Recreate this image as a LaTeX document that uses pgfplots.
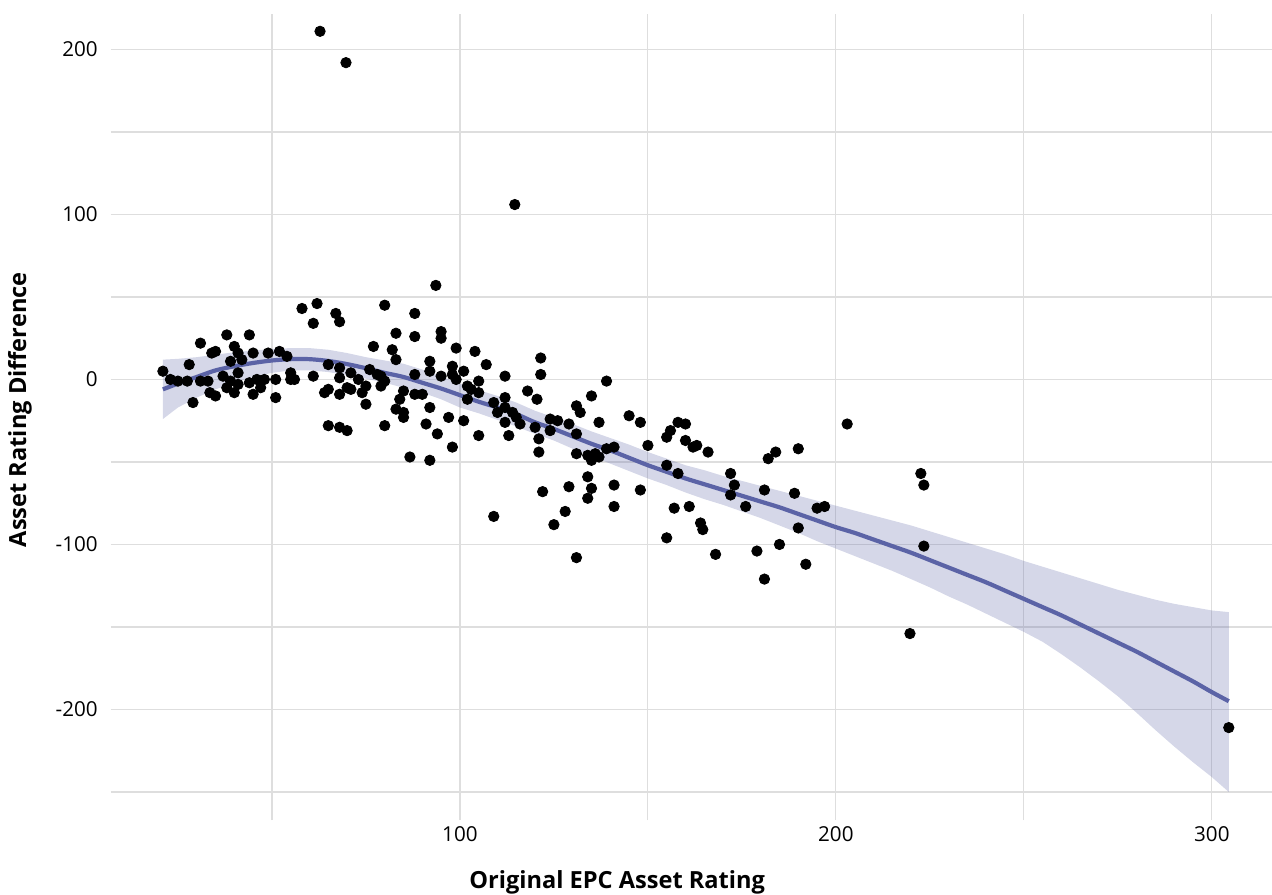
\documentclass[border=0pt]{standalone}
\usepackage{fontspec}
\setmainfont{Open Sans}
\usepackage{pgfplots}
\pgfplotsset{compat=1.18}
\definecolor{fitline}{RGB}{91,99,166}
\definecolor{gridc}{RGB}{222,222,222}
\begin{document}
\begin{tikzpicture}
\begin{axis}[
  scale only axis, width=580.5pt, height=403pt,
  xmin=7.2, xmax=316, ymin=-267, ymax=221.5,
  axis line style={draw=none},
  major tick length=0pt, minor tick length=0pt,
  xtick={100,200,300}, xticklabels={100,200,300},
  minor xtick={50,150,250},
  ytick={-200,-100,0,100,200}, yticklabels={-200,-100,0,100,200},
  minor ytick={-250,-150,-50,50,150},
  grid=both,
  major grid style={gridc, line width=0.6pt},
  minor grid style={gridc, line width=0.6pt},
  tick label style={font=\fontsize{10.3}{12}\selectfont, text=black},
  xticklabel style={anchor=center, yshift=-7pt},
  yticklabel style={anchor=east, inner sep=0pt},
  yticklabel shift=6.5pt,
  xlabel={Original EPC Asset Rating},
  ylabel={Asset Rating Difference},
  xlabel style={font=\bfseries\fontsize{11.8}{13}\selectfont, at={(axis description cs:0.436,-0.0775)}, anchor=center},
  ylabel style={font=\bfseries\fontsize{11.8}{13}\selectfont, at={(axis description cs:-0.0784,0.509)}, anchor=center},
  clip=false,
]
% confidence band (upper forward, lower reversed)
\addplot[draw=none, fill=fitline, fill opacity=0.26] coordinates {
(21,12) (25,12.5) (30,13.5) (35,15) (40,16.5) (45,17.5) (50,18.5) (55,19) (60,19) (65,18) (70,16) (75,13.5) (80,11.5) (85,9.5) (90,6) (95,2) (100,-2.5) (105,-6.5) (110,-10) (115,-14) (120,-19) (125,-23) (130,-27) (135,-31.5) (140,-35.5) (145,-39.5) (150,-44) (155,-48) (160,-52) (165,-55) (170,-58.5) (175,-61.5) (180,-64.5) (185,-67.5) (190,-70.5) (195,-73.5) (200,-76.5) (205,-79.5) (210,-82.5) (215,-85.5) (220,-88.5) (225,-92) (230,-95.5) (235,-99) (240,-102.5) (245,-106) (250,-110) (255,-113.5) (260,-117) (265,-120.5) (270,-124) (275,-127.5) (280,-130.5) (285,-133.5) (290,-136) (295,-138) (300,-140) (304.5,-141)
(304.5,-250) (300,-241) (295,-232) (290,-222.5) (285,-212.5) (280,-202) (275,-192) (270,-183) (265,-174.5) (260,-166.5) (255,-159) (250,-153) (245,-147.5) (240,-142) (235,-136.5) (230,-131.5) (225,-126) (220,-121) (215,-116) (210,-111.5) (205,-107) (200,-102.5) (195,-98) (190,-93) (185,-88.5) (180,-84) (175,-80) (170,-76) (165,-72.5) (160,-68.5) (155,-64) (150,-60) (145,-55.5) (140,-51) (135,-46.5) (130,-42) (125,-37) (120,-33) (115,-28.5) (110,-24.5) (105,-20.5) (100,-17) (95,-12) (90,-8) (85,-5) (80,-2) (75,0.5) (70,2.5) (65,4.5) (60,5.5) (55,5.5) (50,4) (45,1.5) (40,-2) (35,-6) (30,-11) (25,-17) (21,-24)
};
% smooth fit
\addplot[fitline, line width=2.1pt, smooth] coordinates {
(21,-6) (25,-2.5) (30,1.5) (35,5.5) (40,8) (45,10) (50,11.5) (55,12.3) (60,12.3) (65,11.2) (70,9.3) (75,6.8) (80,4) (85,1.5) (90,-2) (95,-5.5) (100,-9.5) (105,-13.5) (110,-17) (115,-21) (120,-26) (125,-30) (130,-34.5) (135,-39) (140,-43) (145,-47.5) (150,-52) (155,-56) (160,-60) (165,-63.5) (170,-67) (175,-70.5) (180,-74) (185,-77.5) (190,-81.5) (195,-85.5) (200,-89.5) (205,-93) (210,-97) (215,-101) (220,-105) (225,-109.5) (230,-114) (235,-118.5) (240,-123) (245,-128) (250,-133) (255,-138) (260,-143) (265,-148.5) (270,-154) (275,-159.5) (280,-165) (285,-171) (290,-177) (295,-183) (300,-189.5) (304.5,-195)
};
% data points
\addplot[only marks, mark=*, mark size=2.6pt, black] coordinates {
(21,5) (23,0) (25,-1) (27.5,-1) (28,9) (29,-14) (31,22) (31,-1) (33,-1) (33.5,-8) (34,16) (35,17) (35,-10) (37,2) (38,27) (38,-5) (39,11) (40,20) (39,-1) (40,-8) (41,16) (41,4) (41,-3) (42,12) (44,27) (44,-2) (45,16) (45,-9) (46,0) (47,-5) (48,0) (49,16) (51,-11) (51,0) (52,17) (54,14) (55,4) (55,0) (56,0)
(58,43) (62,46) (61,34) (67,40) (68,35) (80,45) (88,40) (83,28) (88,26) (95,29) (95,25) (77,20) (82,18) (83,12) (92,11) (99,19) (104,17)
(61,2) (65,9) (68,7) (68,1) (71,4) (65,-6) (64,-8) (68,-9) (70,-5) (71,-6) (73,0) (75,-4) (74,-8) (75,-15) (76,6) (78,3) (79,2) (79,-4) (80,-1) (85,-7) (84,-12) (83,-18) (85,-20) (85,-23) (88,3) (88,-9) (90,-9) (92,5) (92,-17) (95,2) (97,-23) (98,8) (98,3) (99,0) (101,5) (102,-4) (103,-6) (105,-8) (101,-25) (91,-27) (94,-33) (98,-41) (105,-34) (65,-28) (68,-29) (70,-31) (80,-28) (86.7,-47) (92,-49) (93.6,57)
(62.8,211) (69.7,192) (114.6,106)
(107,9) (112,2) (121.5,13) (121.5,3) (102,-12) (105,-1) (109,-14) (110,-20) (112,-11) (112,-17) (114,-20) (115,-23) (116,-27) (112,-26) (118,-7) (120,-29) (120.5,-12) (121,-36) (121,-44) (113,-34) (109,-83)
(139,-1) (124,-24) (126,-25) (124,-31) (129,-27) (131,-16) (132,-20) (135,-10) (137,-26) (131,-33) (131,-45) (134,-46) (135,-49) (136,-45) (137,-47) (139,-42) (141,-41) (145,-22) (148,-26) (150,-40)
(122,-68) (129,-65) (134,-59) (135,-66) (134,-72) (141,-64) (141,-77) (148,-67) (128,-80) (125,-88) (131,-108)
(156,-31) (155,-35) (158,-26) (160,-27) (160,-37) (162,-41) (163,-40) (166,-44) (155,-52) (158,-57) (157,-78) (161,-77) (164,-87) (164.6,-91) (155,-96) (168,-106) (172,-57) (173,-64) (172,-70) (176,-77) (179,-104)
(203,-27) (184,-44) (182,-48) (190,-42) (181,-67) (189,-69) (195,-78) (197,-77) (190,-90) (185,-100) (192,-112) (181,-121)
(222.6,-57) (223.4,-64) (223.4,-101) (219.7,-154) (304.5,-211)
};
\node[anchor=base, yshift=9pt, font=\bfseries\fontsize{10}{12}\selectfont] at (rel axis cs:0.52,1) {Change in Energy Efficiency};
\end{axis}
\pgfresetboundingbox
\path[use as bounding box] (current axis.south west) ++(-55.5pt,-37pt) rectangle ([yshift=7pt]current axis.north east);
\end{tikzpicture}
\end{document}
